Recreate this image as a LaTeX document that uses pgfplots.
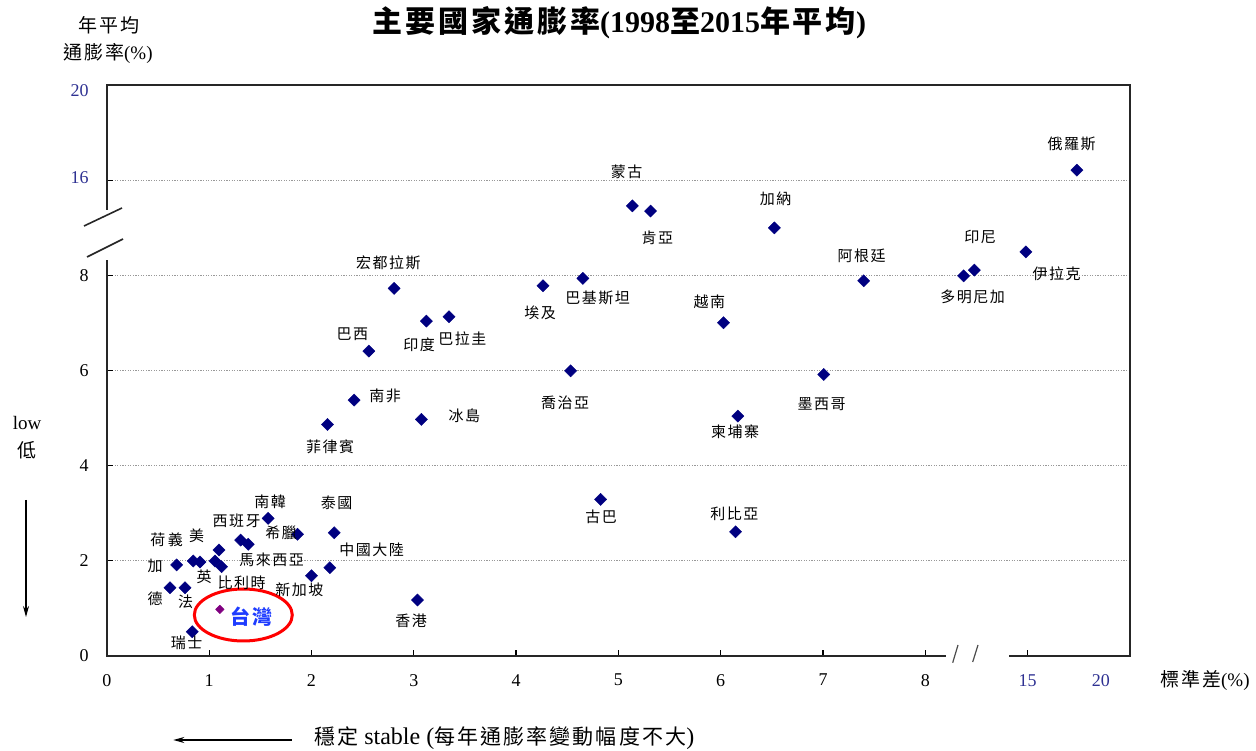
\documentclass[border=0pt]{standalone}
\usepackage{pgfplots}
\pgfplotsset{compat=1.18}
\usepackage{fontspec}
\setmainfont{Liberation Serif}
\newfontfamily\cjk[LetterSpace=10]{Noto Sans CJK TC}
\usetikzlibrary{arrows.meta}
\definecolor{navyc}{RGB}{0,0,128}
\definecolor{tb}{RGB}{46,49,146}
\definecolor{tw}{RGB}{128,0,128}
\definecolor{twb}{RGB}{30,60,255}
\newcommand\lab[3]{\node[inner sep=0pt,font=\fontsize{15}{15}\selectfont\cjk] at ({#1},{750-#2}) {#3};}
\begin{document}
\begin{tikzpicture}
\useasboundingbox (0,0) rectangle (1256pt,750pt);
\begin{axis}[
  at={(106.8pt,94pt)}, anchor=south west,
  scale only axis, width=1023.2pt, height=571pt,
  xmin=0, xmax=22, ymin=0, ymax=20,
  x coord trafo/.code={\pgfmathparse{#1>8 ? 8+(#1-8)/7 : #1}},
  x coord inv trafo/.code={\pgfmathparse{#1>8 ? 8+(#1-8)*7 : #1}},
  y coord trafo/.code={\pgfmathparse{#1>16 ? 10+(#1-16)*0.5 : (#1>8 ? 8+(#1-8)*0.25 : #1)}},
  y coord inv trafo/.code={\pgfmathparse{#1>10 ? 16+(#1-10)*2 : (#1>8 ? 8+(#1-8)*4 : #1)}},
  axis line style={draw=none},
  tick align=inside, xtick pos=left, ytick pos=left,
  major tick length=6pt,
  tick style={black, line width=1.2pt},
  xtick={0,1,2,3,4,5,6,7,8,15},
  xticklabels={0,1,2,3,4,5,6,7,8,\textcolor{tb}{15}},
  extra x ticks={20},
  extra x tick labels={\textcolor{tb}{20}},
  extra x tick style={major tick length=0pt},
  ytick={2,4,6,8,16},
  yticklabels={2,4,6,8,\raisebox{5pt}{\textcolor{tb}{16}}},
  ymajorgrids=true,
  grid style={gray!80, line width=0.9pt, dash pattern=on 1.1pt off 1.5pt},
  tick label style={font=\fontsize{18}{18}\selectfont},
  yticklabel style={inner sep=0pt, xshift=-18pt},
  xticklabel style={inner sep=0pt, yshift=-18pt},
  clip=false,
]
\addplot[only marks, mark=square*, mark size=4.3pt,
  mark options={rotate=45, fill=navyc, draw=navyc}] table {
x y
1.577 2.893
1.864 2.557
2.222 2.590
1.308 2.437
1.382 2.347
1.096 2.227
1.057 1.996
1.122 1.876
0.845 1.996
0.910 1.975
0.683 1.914
0.617 1.435
0.764 1.435
0.835 0.510
2.000 1.687
2.180 1.855
3.036 1.176
4.826 3.290
6.145 2.610
2.808 7.725
2.561 6.408
3.124 7.038
3.345 7.130
2.417 5.378
2.157 4.867
3.075 4.972
4.263 7.780
4.653 7.935
4.533 5.994
5.136 13.84
5.314 13.40
18.37 16.42
6.525 11.99
7.397 7.885
6.027 7.003
7.007 5.918
6.167 5.042
10.62 7.990
11.35 8.440
14.88 9.970
};
\addplot[only marks, mark=square*, mark size=3pt,
  mark options={rotate=45, fill=tw, draw=tw}] coordinates {(1.105,0.98)};
\end{axis}
\begin{scope}[x=1pt,y=1pt]
% frame with breaks
\draw[line width=1.6pt, black!85] (106.8,540) -- (106.8,665) -- (1130,665) -- (1130,94) -- (1009,94);
\draw[line width=1.6pt, black!85] (945.7,94) -- (106.8,94) -- (106.8,490);
\draw[line width=1.6pt, black!85] (84,524) -- (122,542);
\draw[line width=1.6pt, black!85] (87,493) -- (123,511);
\draw[line width=1.2pt, black!70] (952.7,87.3) -- (958,105);
\draw[line width=1.2pt, black!70] (972.7,88) -- (978,105);
% y tick labels 0 and 20
\node[inner sep=0pt, anchor=east, font=\fontsize{18}{18}\selectfont] at (88.8,94) {0};
\node[inner sep=0pt, anchor=east, font=\fontsize{18}{18}\selectfont, text=tb] at (88.8,659) {20};
% titles
\node[inner sep=0pt, font=\fontsize{30}{30}\selectfont\bfseries] at (619,727) {{\cjk 主要國家通膨率}(1998{\cjk 至}2015{\cjk 年平均})};
\node[inner sep=0pt, font=\fontsize{19}{19}\selectfont\cjk] at (109,725) {年平均};
\node[inner sep=0pt, font=\fontsize{19}{19}\selectfont] at (108,697) {{\cjk 通膨率}(\%)};
\node[inner sep=0pt, font=\fontsize{19}{19}\selectfont] at (1205,70) {{\cjk 標準差}(\%)};
\node[inner sep=0pt, font=\fontsize{19}{19}\selectfont] at (27,327) {low};
\node[inner sep=0pt, font=\fontsize{19}{19}\selectfont\cjk] at (27,300) {低};
\draw[line width=1.4pt, -{Stealth[length=11pt,width=6pt]}] (26,250) -- (26,133);
\draw[line width=1.4pt, -{Stealth[length=11pt,width=6pt]}] (291.7,10) -- (173.3,10);
\node[inner sep=0pt, anchor=west, font=\fontsize{24}{24}\selectfont] at (314,12) {{\cjk\fontsize{21}{21}\selectfont 穩定} stable ({\cjk\fontsize{21}{21}\selectfont 每年通膨率變動幅度不大})};
% Taiwan highlight
\draw[red, line width=3pt] (243.3,135) ellipse [x radius=49pt, y radius=26pt];
\node[inner sep=0pt, text=twb, font=\fontsize{20}{20}\selectfont\cjk\bfseries] at (251.7,133.3) {台灣};
% country labels
\lab{1071.7}{144}{俄羅斯}
\lab{626.7}{171.7}{蒙古}
\lab{657.3}{238.3}{肯亞}
\lab{775.7}{198.3}{加納}
\lab{980}{236.7}{印尼}
\lab{861.7}{256}{阿根廷}
\lab{1056.7}{273.3}{伊拉克}
\lab{972.7}{296.7}{多明尼加}
\lab{709.3}{301.7}{越南}
\lab{821.7}{404}{墨西哥}
\lab{735}{431.7}{柬埔寨}
\lab{388.3}{263.3}{宏都拉斯}
\lab{352.3}{334}{巴西}
\lab{419}{345}{印度}
\lab{462.3}{339}{巴拉圭}
\lab{540}{313.3}{埃及}
\lab{597.7}{298.3}{巴基斯坦}
\lab{385}{396}{南非}
\lab{330}{446.7}{菲律賓}
\lab{464.3}{416}{冰島}
\lab{565}{403.3}{喬治亞}
\lab{601}{516.7}{古巴}
\lab{734.3}{514.3}{利比亞}
\lab{411}{621}{香港}
\lab{270}{501.7}{南韓}
\lab{336.7}{502.7}{泰國}
\lab{236.7}{521}{西班牙}
\lab{281}{533.3}{希臘}
\lab{371.7}{550}{中國大陸}
\lab{166.7}{540}{荷\,義}
\lab{196.7}{536}{美}
\lab{155}{566}{加}
\lab{271.7}{560}{馬來西亞}
\lab{204}{576.7}{英}
\lab{241.7}{583.3}{比利時}
\lab{299.3}{590}{新加坡}
\lab{155}{598.3}{德}
\lab{185.7}{601.7}{法}
\lab{186.7}{643.3}{瑞士}
\end{scope}
\end{tikzpicture}
\end{document}
